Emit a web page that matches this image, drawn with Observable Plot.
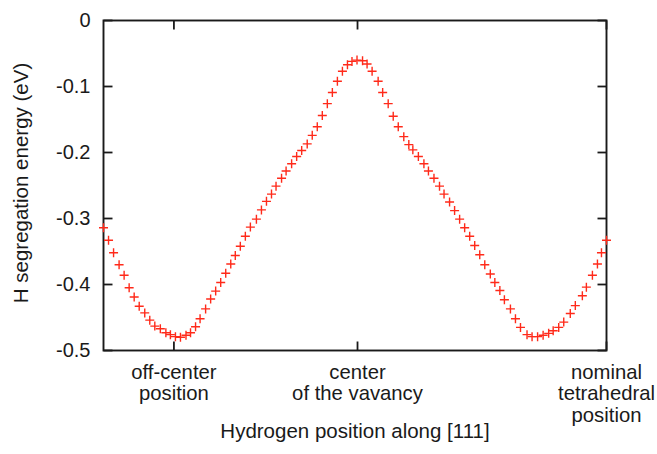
<!DOCTYPE html>
<html>
<head>
<meta charset="utf-8">
<script src="https://cdn.jsdelivr.net/npm/d3@7"></script>
<script src="https://cdn.jsdelivr.net/npm/@observablehq/plot@0.6"></script>
<style>
  html, body { margin: 0; padding: 0; background: #fff; }
</style>
</head>
<body>
<div id="chart"></div>
<script>
// ---- data ----
const xDomain = [0, 100];
const yDomain = [-0.5, 0];

const xTickValues = [14.0, 50.5, 100];
const xTickLabels = ["off-center\nposition", "center\nof the vavancy", "nominal\ntetrahedral\nposition"];

const yTickValues = [0, -0.1, -0.2, -0.3, -0.4, -0.5];
const yTickLabels = ["0", "-0.1", "-0.2", "-0.3", "-0.4", "-0.5"];

const xLabel = "Hydrogen position along [111]";
const yLabel = "H segregation energy (eV)";

const positions = [
  0.0, 1.0, 2.0, 3.1, 4.1, 5.1, 6.1, 7.1, 8.2, 9.2,
  10.2, 11.3, 12.4, 13.3, 14.3, 15.3, 16.4, 17.3, 18.3, 19.2,
  20.3, 21.3, 22.3, 23.3, 24.3, 25.3, 26.2, 27.2, 28.2, 29.2,
  30.4, 31.4, 32.4, 33.4, 34.3, 35.4, 36.3, 37.4, 38.4, 39.4,
  40.5, 41.5, 42.5, 43.5, 44.5, 45.5, 46.5, 47.5, 48.5, 49.4,
  50.4, 51.5, 52.4, 53.4, 54.6, 55.5, 56.6, 57.6, 58.6, 59.7,
  60.7, 61.5, 62.6, 63.7, 64.6, 65.7, 66.8, 67.7, 68.8, 69.8,
  70.8, 71.8, 72.8, 73.8, 74.8, 75.8, 76.9, 77.8, 78.8, 79.7,
  80.9, 81.9, 82.9, 84.2, 85.2, 86.3, 87.4, 88.5, 89.4, 90.5,
  91.5, 92.8, 93.8, 95.2, 96.0, 97.2, 98.2, 99.0, 100.0
];

const energies = [
  -0.314, -0.333, -0.352, -0.370, -0.386, -0.405, -0.419, -0.433, -0.443, -0.454,
  -0.463, -0.467, -0.473, -0.476, -0.479, -0.480, -0.477, -0.473, -0.464, -0.452,
  -0.437, -0.422, -0.410, -0.397, -0.383, -0.369, -0.356, -0.342, -0.327, -0.313,
  -0.301, -0.287, -0.274, -0.263, -0.251, -0.239, -0.228, -0.217, -0.206, -0.197,
  -0.187, -0.174, -0.161, -0.144, -0.126, -0.109, -0.092, -0.077, -0.067, -0.062,
  -0.060, -0.061, -0.066, -0.077, -0.092, -0.109, -0.126, -0.145, -0.161, -0.176,
  -0.188, -0.196, -0.206, -0.217, -0.228, -0.239, -0.251, -0.263, -0.275, -0.288,
  -0.301, -0.314, -0.327, -0.341, -0.355, -0.370, -0.384, -0.397, -0.409, -0.423,
  -0.437, -0.452, -0.465, -0.476, -0.479, -0.479, -0.477, -0.474, -0.470, -0.465,
  -0.457, -0.444, -0.432, -0.417, -0.404, -0.386, -0.369, -0.352, -0.333
];

// ---- tables built from the arrays ----
const points = positions.map((x, i) => ({x, e: energies[i]}));
const xTicks = xTickValues.map((v, i) => ({v, label: xTickLabels[i]}));
const yTicks = yTickValues.map((v, i) => ({v, label: yTickLabels[i]}));

// ---- custom symbols ----
const cross = {
  draw(ctx, size) {
    const r = Math.sqrt(size / Math.PI);
    ctx.moveTo(-r, 0); ctx.lineTo(r, 0);
    ctx.moveTo(0, -r); ctx.lineTo(0, r);
  }
};
const tickLine = (dx, dy) => ({
  draw(ctx, size) {
    const l = Math.sqrt(size / Math.PI);
    ctx.moveTo(0, 0); ctx.lineTo(dx * l, dy * l);
  }
});

const axisColor = "#1a1a1a";
const font = "'Liberation Sans', Arial, Helvetica, sans-serif";

const chart = Plot.plot({
  width: 657,
  height: 454,
  marginLeft: 103,
  marginRight: 51,
  marginTop: 20,
  marginBottom: 104,
  style: {fontFamily: font, fontSize: "20px", background: "#fff", color: axisColor},
  x: {domain: xDomain, axis: null},
  y: {domain: yDomain, axis: null},
  marks: [
    // inward ticks
    Plot.dot(yTicks, {x: () => xDomain[0], y: "v", symbol: tickLine(1, 0), r: 9, stroke: axisColor, strokeWidth: 1.8, fill: "none"}),
    Plot.dot(yTicks, {x: () => xDomain[1], y: "v", symbol: tickLine(-1, 0), r: 9, stroke: axisColor, strokeWidth: 1.8, fill: "none"}),
    Plot.dot(xTicks, {x: "v", y: () => yDomain[0], symbol: tickLine(0, -1), r: 9, stroke: axisColor, strokeWidth: 1.8, fill: "none"}),
    Plot.dot(xTicks, {x: "v", y: () => yDomain[1], symbol: tickLine(0, 1), r: 9, stroke: axisColor, strokeWidth: 1.8, fill: "none"}),
    Plot.frame({stroke: axisColor, strokeWidth: 1.9}),
    // tick labels
    Plot.text(yTicks, {x: () => xDomain[0], y: "v", text: "label", textAnchor: "end", dx: -13, fontSize: 20, fill: axisColor}),
    Plot.text(xTicks, {x: "v", y: () => yDomain[0], text: "label", lineAnchor: "top", dy: 12.5, lineHeight: 1.08, fontSize: 20.3, fill: axisColor}),
    // axis titles
    Plot.text([yLabel], {text: d => d, frameAnchor: "left", textAnchor: "middle", rotate: -90, dx: -82, dy: -2.5, fontSize: 20.5, fill: axisColor}),
    Plot.text([xLabel], {text: d => d, frameAnchor: "bottom", textAnchor: "middle", dy: 87, fontSize: 20.5, fill: axisColor}),
    // data
    Plot.dot(points, {x: "x", y: "e", symbol: cross, r: 4.5, stroke: "#ff2a1a", strokeWidth: 1.4, fill: "none"})
  ]
});
document.getElementById("chart").appendChild(chart);
</script>
</body>
</html>
